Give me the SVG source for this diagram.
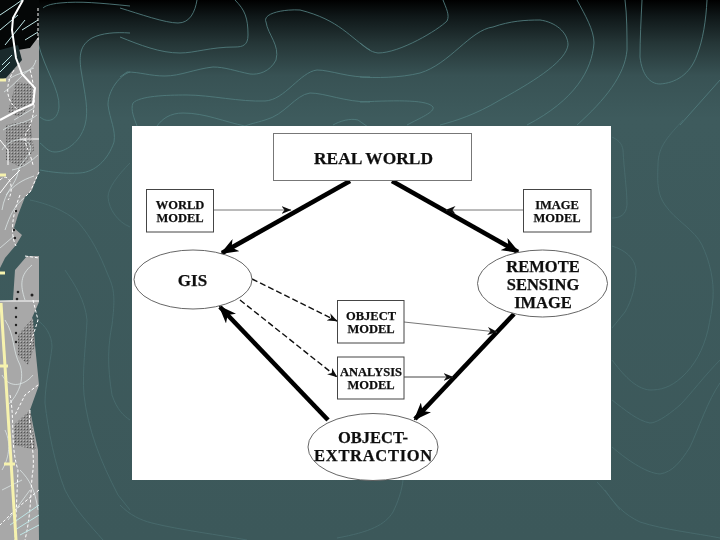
<svg xmlns="http://www.w3.org/2000/svg" width="720" height="540" viewBox="0 0 720 540">
<style>
.ct{fill:none;stroke:#507a7c;stroke-width:.9}
.cd{fill:none;stroke:#486b6d;stroke-width:.9}
.w{fill:none;stroke:#fff;stroke-width:1}
.wt{fill:none;stroke:#e4eeee;stroke-width:.7}
.wd{fill:none;stroke:#fff;stroke-width:1;stroke-dasharray:3 2}
.c{fill:none;stroke:#bfe6e6;stroke-width:1}
.box{fill:#fff;stroke:#444;stroke-width:1}
.ell{fill:#fff;stroke:#555;stroke-width:.9}
text{font-family:"Liberation Serif","Times New Roman",serif;font-weight:bold;fill:#111;stroke:#111;stroke-width:.25;text-anchor:middle}
.s{font-size:12.5px}
.m{font-size:16.5px}
.thick{fill:none;stroke:#000;stroke-width:4.6;marker-end:url(#big)}
.thin{fill:none;stroke:#777;stroke-width:1;marker-end:url(#small)}
.dash{fill:none;stroke:#111;stroke-width:1.4;stroke-dasharray:6 3;marker-end:url(#small)}
</style>
<defs>
<linearGradient id="bg" x1="0" y1="0" x2="0" y2="1">
<stop offset="0" stop-color="#000"/>
<stop offset=".03" stop-color="#0f1718"/>
<stop offset=".08" stop-color="#253637"/>
<stop offset=".14" stop-color="#385254"/>
<stop offset=".22" stop-color="#3e5b5d"/>
<stop offset="1" stop-color="#3c585a"/>
</linearGradient>
<pattern id="st" width="3" height="3" patternUnits="userSpaceOnUse"><rect width="3" height="3" fill="#8d8d8d"/><rect width="1" height="1" fill="#555"/><rect x="2" y="2" width="1" height="1" fill="#b5b5b5"/></pattern>
<marker id="big" viewBox="0 0 18 14" refX="16" refY="7" markerWidth="18" markerHeight="14" markerUnits="userSpaceOnUse" orient="auto"><path d="M0 0L18 7L0 14L5 7Z" fill="#000"/></marker>
<marker id="small" viewBox="0 0 10 8" refX="9.5" refY="4" markerWidth="10" markerHeight="8" markerUnits="userSpaceOnUse" orient="auto"><path d="M0 0L10 4L0 8L3 4Z" fill="#111"/></marker>
<filter id="soft" x="0" y="0" width="1" height="1"><feGaussianBlur stdDeviation=".4"/></filter>
<filter id="soft2" x="0" y="0" width="1" height="1"><feGaussianBlur stdDeviation=".3"/></filter>
</defs>
<rect width="720" height="540" fill="url(#bg)"/>
<g id="contours" filter="url(#soft2)">
<path class="ct" d="M120 8C140 14 165 23 178 23C190 23 195 12 197 0"/>
<path class="ct" d="M235 0C245 10 248 18 248 35C248 45 243 47 235 47C210 47 195 53 180 53C160 53 140 45 120 37"/>
<path class="ct" d="M370 50C350 38 340 20 300 10C285 9 262 13 266 22C268 35 280 45 276 60C270 72 258 75 250 74C235 71 225 67 213 67C195 69 180 76 165 76C150 76 140 72 127 72L120 77"/>
<path class="ct" d="M370 77C350 78 330 70 317 70C300 72 285 100 265 101C240 102 210 95 187 95C165 95 140 96 133 103C130 110 135 120 137 126"/>
<path class="ct" d="M370 102C345 102 325 93 310 93C295 95 285 115 265 120C255 123 250 124 245 126C225 122 205 113 183 113C170 113 162 119 157 126"/>
<path class="ct" d="M333 125C340 121 350 118 358 120L368 127"/>
<path class="ct" d="M443 0C446 8 450 15 447 21C438 30 400 53 378 53C370 52 365 47 360 43"/>
<path class="ct" d="M360 77C375 78 400 78 420 73C450 64 470 30 493 27C510 21 525 20 540 20C555 22 568 32 568 45C566 60 540 78 500 100C475 115 455 121 440 125"/>
<path class="ct" d="M407 125C420 118 435 112 433 107C428 100 400 100 360 102"/>
<path class="ct" d="M577 0C585 15 594 30 594 43C592 70 575 100 527 125"/>
<path class="ct" d="M625 0C627 15 627 35 627 50C625 75 605 100 577 125"/>
<path class="ct" d="M642 0C641 20 640 40 640 57C642 75 650 84 660 84C675 83 690 75 697 55C703 40 706 20 707 0"/>
<path class="ct" d="M720 80L680 125"/>
<path class="ct" d="M130 6C100 3 80 1 60 3C50 4 45 6 43 8"/>
<path class="ct" d="M38 43C45 70 60 90 59 107C58 120 48 124 40 117"/>
<path class="ct" d="M130 33C115 32 102 33 92 38C80 45 79 55 81 70C85 95 89 110 85 125C80 143 65 152 55 152C48 152 44 146 40 143"/>
<path class="ct" d="M130 72C120 75 108 90 108 105C110 120 116 130 114 142C108 160 95 172 80 173C65 174 50 172 40 170"/>
<path class="cd" d="M130 163C118 175 108 188 108 197C109 210 118 222 130 227"/>
<path class="cd" d="M30 200C45 203 65 210 78 222C92 238 100 255 108 275C115 290 115 300 112 325C108 345 107 365 112 395C117 410 124 416 130 420"/>
<path class="cd" d="M65 270C75 285 85 300 87 320C86 345 82 370 84 395C88 430 100 460 118 495L130 510"/>
<path class="cd" d="M37 320C45 325 52 335 52 347C50 365 45 385 45 403C48 430 55 465 65 490C75 510 90 525 103 540"/>
<path class="cd" d="M612 137C618 140 622 143 623 150C624 170 627 190 627 205C626 215 620 218 612 218"/>
<path class="cd" d="M683 120C670 135 658 145 658 165C657 185 658 195 665 205C675 220 695 230 702 245C710 262 714 280 713 298C712 310 710 320 708 330C703 350 695 365 682 377C670 388 660 390 650 390C635 389 622 373 612 360"/>
<path class="cd" d="M612 246C625 250 635 258 636 270C636 285 632 300 625 312L612 328"/>
<path class="cd" d="M720 360C705 375 690 395 680 405C665 418 655 423 650 423C638 421 625 410 612 400"/>
<path class="cd" d="M720 383C708 400 698 430 690 447C680 463 672 472 660 474C645 473 625 458 612 447"/>
<path class="cd" d="M605 490C615 505 625 515 640 522C665 530 695 533 720 538"/>
<path class="cd" d="M120 505C130 515 140 520 152 523C180 530 220 535 247 540"/>
<path class="cd" d="M403 480C402 490 398 502 393 512C385 525 370 532 337 538"/>
<path class="cd" d="M597 482C605 490 612 500 620 510"/>
</g>
<g id="left-strip">
<path fill="#050707" d="M0 0H39V36L30 48L15 52L0 68Z"/>
<path fill="#a3a3a3" d="M0 64L18 50L30 48L39 36V172L32 190L25 197L18 215L14 228L22 235L16 245L5 258L0 268Z"/>
<path fill="#1a2a2c" d="M0 50L18 45L22 60L6 78L0 80Z"/>
<path fill="url(#st)" d="M6 125L30 120L34 150L22 168L6 160Z"/>
<path fill="url(#st)" d="M16 82L32 84L34 100L20 118L8 112Z"/>
<path fill="#a8a8a8" d="M27 256H39V302L32 318L35 345L39 385L30 410L38 450L39 540H0V301L13 300L15 270Z"/>
<path fill="url(#st)" d="M18 335L33 318L35 345L28 365L18 355Z"/>
<path fill="url(#st)" d="M14 425L30 410L36 450L14 445Z"/>
<path class="c" d="M0 15L15 5L22 0M0 30L18 15M5 45L25 20M22 30L38 20M25 40L38 32M2 65L12 55M0 72L10 62"/>
<path class="wt" d="M8 80C20 70 32 75 36 60M4 92C15 85 25 70 34 68M14 120L34 108M3 130C14 122 25 125 37 115M2 150C8 140 25 135 30 145C34 155 20 160 18 172C16 185 5 190 2 210M12 170C24 168 32 160 38 155M6 195C14 185 22 180 34 176M5 230C10 215 15 205 24 198M0 248L14 236M25 300C20 285 20 275 32 265M5 320C15 335 12 350 20 365C25 380 18 395 8 405M2 375C10 390 25 385 33 375M5 430C12 445 8 460 2 470M20 470C30 480 35 490 38 510M2 490L22 480M8 520L30 490"/>
<path class="wd" d="M38 8V40M14 70C5 85 5 100 18 110M30 70C36 90 36 115 28 130C20 140 30 150 33 165M0 180C10 170 15 190 8 200M20 195C12 215 10 235 16 246M39 172L30 192L26 196"/>
<path class="w" style="stroke-width:2" d="M23 0L13 18L12 30L16 58L22 74L35 88L33 104L15 112L0 120"/>
<path class="w" d="M0 140L8 150V165M20 139H39M0 301H39M0 193L10 180L20 170"/>
<path class="wd" d="M25 256L39 258M33 300L38 320L30 345M10 395C15 420 10 445 18 470L15 540M30 410C28 430 35 450 33 470C30 490 32 510 25 540M38 385L25 395L15 415M39 490L15 510L0 525"/>
<path class="c" d="M15 530L39 515M20 535L39 525M10 525L39 505"/>
<path fill="none" stroke="#f6f2ae" stroke-width="3" d="M1 303L16 540"/>
<path fill="none" stroke="#f6f2ae" stroke-width="3" d="M0 80H6M0 175H6M0 273H5M0 366H8M4 464H15"/>
<g fill="#222"><circle cx="16" cy="211" r="1.2"/><circle cx="14" cy="230" r="1.2"/><circle cx="15" cy="238" r="1.2"/><circle cx="18" cy="292" r="1.3"/><circle cx="32" cy="295" r="1.5"/><circle cx="17" cy="299" r="1.3"/><circle cx="16" cy="308" r="1.3"/><circle cx="16" cy="317" r="1.2"/><circle cx="16" cy="325" r="1.2"/><circle cx="16" cy="333" r="1.2"/><circle cx="16" cy="342" r="1.2"/></g>
</g>
<g filter="url(#soft)">
<rect id="panel" x="132" y="126" width="479" height="354" fill="#fff"/>
<g id="connectors">
<path class="thick" d="M350 181L222 253"/>
<path class="thick" d="M392 181L518 252"/>
<path class="thick" d="M514 314L415 419"/>
<path class="thick" d="M328 420L220 307"/>
<path class="thin" d="M213 210H291"/>
<path class="thin" d="M523 210H446"/>
<path class="thin" d="M404 322L497 332"/>
<path class="thin" style="stroke:#444" d="M404 377H453"/>
<path class="dash" d="M252 279L337 321"/>
<path class="dash" d="M240 300L337 377"/>
</g>
<g id="real-world"><rect class="box" style="stroke:#777" x="273.5" y="133.5" width="198" height="47"/><text x="373.500" y="164" font-size="17.4">REAL WORLD</text></g>
<g id="world-model"><rect class="box" x="146.500" y="189.500" width="67" height="42.500"/><text class="s" x="180" y="208.500">WORLD</text><text class="s" x="180" y="221.500">MODEL</text></g>
<g id="image-model"><rect class="box" x="523.500" y="189.500" width="67.500" height="42.500"/><text class="s" x="557" y="208.500">IMAGE</text><text class="s" x="557" y="221.500">MODEL</text></g>
<g id="gis"><ellipse class="ell" cx="193" cy="279.500" rx="59" ry="29.500"/><text x="192.500" y="286" font-size="17">GIS</text></g>
<g id="remote-sensing-image"><ellipse class="ell" cx="542.500" cy="283.500" rx="65" ry="33.500"/><text class="m" x="543" y="271.500">REMOTE</text><text class="m" x="543" y="289.500">SENSING</text><text class="m" x="543" y="307.500">IMAGE</text></g>
<g id="object-model"><rect class="box" x="337.500" y="300.500" width="66.500" height="42.500"/><text class="s" x="371" y="320">OBJECT</text><text class="s" x="371" y="333">MODEL</text></g>
<g id="analysis-model"><rect class="box" x="337.500" y="357" width="66.500" height="42"/><text class="s" x="371" y="376">ANALYSIS</text><text class="s" x="371" y="389">MODEL</text></g>
<g id="object-extraction"><ellipse class="ell" cx="373" cy="447" rx="65" ry="33.500"/><text class="m" x="373" y="443">OBJECT-</text><text class="m" x="373.500" y="461" letter-spacing=".7">EXTRACTION</text></g>
</g>
</svg>
